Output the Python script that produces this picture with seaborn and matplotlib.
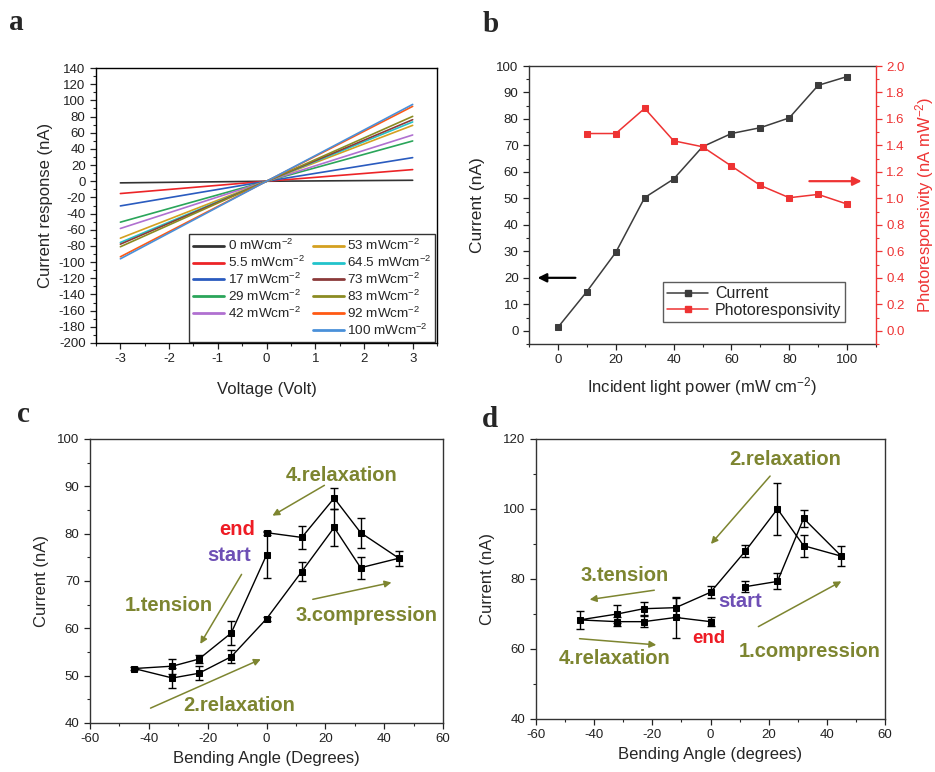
import numpy as np
import pandas as pd
import seaborn as sns
import matplotlib
matplotlib.use("Agg")
import matplotlib.pyplot as plt
from matplotlib.ticker import MultipleLocator
from matplotlib.lines import Line2D

# ---------------- data ----------------
# panel a : I-V curves
voltage = [-3, 0, 3]
intensity_labels = ["0", "5.5", "17", "29", "42", "53", "64.5", "73", "83", "92", "100"]
current_at_minus3 = [-2, -15.2, -30.5, -50.6, -58.4, -70.4, -75.7, -77.8, -81, -93.4, -95.9]
current_at_zero = [0, 0, 0, 0, 0, 0, 0, 0, 0, 0, 0]
current_at_plus3 = [1.2, 14.4, 29.2, 49.8, 57.2, 69.1, 73.3, 76.1, 80.2, 92.6, 95.0]

# panel b : current & photoresponsivity vs power
power_b = [0, 10, 20, 30, 40, 50, 60, 70, 80, 90, 100]
current_b = [1.3, 14.8, 29.6, 50.3, 57.3, 69.5, 74.5, 76.7, 80.4, 92.7, 96.0]
power_resp = [10, 20, 30, 40, 50, 60, 70, 80, 90, 100]
photoresp = [1.49, 1.49, 1.68, 1.435, 1.39, 1.244, 1.098, 1.005, 1.03, 0.957]

# panel c : bending cycle (path order)
angle_c = [0, -12, -23, -32, -45, -32, -23, -12, 0, 12, 23, 32, 45, 32, 23, 12, 0]
current_c = [75.5, 59, 53.5, 52, 51.5, 49.5, 50.5, 54, 62, 72, 81.3, 72.8, 74.8, 80.2, 87.5, 79.2, 80.2]
error_c = [4.8, 2.5, 0.8, 1.6, 0.4, 2.1, 1.5, 1.4, 0.4, 2.1, 3.9, 2.3, 1.6, 3.2, 2.2, 2.5, 0.4]

# panel d : bending cycle (path order)
angle_d = [12, 23, 32, 45, 32, 23, 12, 0, -12, -23, -32, -45, -32, -23, -12, 0]
current_d = [77.8, 79.3, 97.3, 86.5, 89.5, 100, 88, 76.2, 71.8, 71.5, 70, 68.3, 67.8, 67.8, 69, 67.8]
error_d = [1.5, 2.3, 2.5, 2.8, 3.2, 7.3, 1.8, 1.7, 2.8, 1.8, 2.5, 2.5, 1.3, 1.5, 5.8, 1.2]

# ---------------- style ----------------
sns.set_theme(style="ticks")
plt.rcParams["font.family"] = ["Liberation Sans", "DejaVu Sans"]
plt.rcParams["mathtext.fontset"] = "custom"
plt.rcParams["mathtext.rm"] = "Liberation Sans"
plt.rcParams["mathtext.it"] = "Liberation Sans:italic"
plt.rcParams["mathtext.bf"] = "Liberation Sans:bold"
plt.rcParams["axes.unicode_minus"] = False
plt.rcParams["xtick.direction"] = "out"
plt.rcParams["ytick.direction"] = "out"

TICK_FS = 9.5
LABEL_FS = 12
OLIVE = "#7d8530"
RED_TXT = "#ee1c25"
PURPLE = "#6e4fb5"

iv_colors = ["#333333", "#ec2427", "#2a5bbf", "#2aa55a", "#b070d0", "#d4a020",
             "#22c3cb", "#8b3a3a", "#8b8b22", "#ff5a14", "#4a90d9"]

fig = plt.figure(figsize=(9.35, 7.72), dpi=100)


def style_axes(ax, color="black"):
    for s in ax.spines.values():
        s.set_visible(True)
        s.set_color(color)
        s.set_linewidth(1.0)
    ax.tick_params(which="major", length=4, width=0.9, labelsize=TICK_FS, colors="#222222")
    ax.tick_params(which="minor", length=2.2, width=0.8)
    ax.tick_params(top=False, right=False, which="both")


# ---------------- panel a ----------------
axa = fig.add_axes([0.1027, 0.5557, 0.3647, 0.3562])
rows = []
for lab, m3, z, p3 in zip(intensity_labels, current_at_minus3, current_at_zero, current_at_plus3):
    for v, c in zip(voltage, [m3, z, p3]):
        rows.append({"Voltage": v, "Current": c, "Intensity": f"{lab} mWcm$^{{-2}}$"})
df_a = pd.DataFrame(rows)
sns.lineplot(data=df_a, x="Voltage", y="Current", hue="Intensity",
             palette=iv_colors, linewidth=1.2, ax=axa, legend=False, sort=False, estimator=None)
axa.set_xlim(-3.5, 3.5)
axa.set_ylim(-200, 140)
axa.xaxis.set_major_locator(MultipleLocator(1))
axa.xaxis.set_minor_locator(MultipleLocator(0.5))
axa.yaxis.set_major_locator(MultipleLocator(20))
axa.yaxis.set_minor_locator(MultipleLocator(10))
style_axes(axa)
axa.set_xlabel("Voltage (Volt)", fontsize=LABEL_FS, labelpad=12)
axa.set_ylabel("Current response (nA)", fontsize=LABEL_FS, labelpad=4)
handles = [Line2D([], [], color=c, lw=2) for c in iv_colors]
labels = [f"{l} mWcm$^{{-2}}$" for l in intensity_labels]
handles.insert(5, Line2D([], [], color="none"))
labels.insert(5, "")
leg = axa.legend(handles, labels, ncol=2, loc="lower right", bbox_to_anchor=(0.995, 0.005),
                 fontsize=9.7, frameon=True, fancybox=False, edgecolor="black",
                 handlelength=2.3, handletextpad=0.25, columnspacing=0.6,
                 labelspacing=0.12, borderpad=0.3, borderaxespad=0)
leg.get_frame().set_linewidth(1.0)

# ---------------- panel b ----------------
axb = fig.add_axes([0.5658, 0.5544, 0.3711, 0.3601])
GRAY = "#3c3c3c"
RED = "#ee3333"
sns.lineplot(x=power_b, y=current_b, ax=axb, color=GRAY, marker="s", markersize=5,
             markeredgecolor=GRAY, linewidth=1.1, label="Current", legend=False,
             sort=False, estimator=None)
axb.set_xlim(-10, 110)
axb.set_ylim(-5, 100)
axb.xaxis.set_major_locator(MultipleLocator(20))
axb.xaxis.set_minor_locator(MultipleLocator(10))
axb.yaxis.set_major_locator(MultipleLocator(10))
axb.yaxis.set_minor_locator(MultipleLocator(5))
style_axes(axb, color="#333333")
axb.set_xlabel("Incident light power (mW cm$^{-2}$)", fontsize=LABEL_FS, labelpad=6)
axb.set_ylabel("Current (nA)", fontsize=LABEL_FS + 0.5, labelpad=8)

axb2 = axb.twinx()
sns.lineplot(x=power_resp, y=photoresp, ax=axb2, color=RED, marker="s", markersize=5,
             markeredgecolor=RED, linewidth=1.1, label="Photoresponsivity", legend=False,
             sort=False, estimator=None)
axb2.set_ylim(-0.1, 2.0)
axb2.yaxis.set_major_locator(MultipleLocator(0.2))
axb2.yaxis.set_minor_locator(MultipleLocator(0.1))
axb2.yaxis.set_major_formatter(matplotlib.ticker.FormatStrFormatter("%.1f"))
axb2.spines["right"].set_color(RED)
axb2.spines["right"].set_linewidth(1.0)
axb2.spines["top"].set_visible(False)
axb2.spines["left"].set_visible(False)
axb2.spines["bottom"].set_visible(False)
axb2.tick_params(axis="y", which="major", length=4, width=0.9, colors=RED, labelsize=TICK_FS)
axb2.tick_params(axis="y", which="minor", length=2.2, width=0.8, colors=RED)
axb2.set_ylabel("Photoresponsivity (nA mW$^{-2}$)", fontsize=LABEL_FS, color=RED, labelpad=6)
axb.spines["right"].set_visible(False)

h1 = Line2D([], [], color=GRAY, marker="s", markersize=5, lw=1.1)
h2 = Line2D([], [], color=RED, marker="s", markersize=5, lw=1.1)
legb = axb.legend([h1, h2], ["Current", "Photoresponsivity"], loc="lower left",
                  bbox_to_anchor=(0.386, 0.079), fontsize=11.5, frameon=True, fancybox=False,
                  edgecolor="#333333", handlelength=2.6, handletextpad=0.4,
                  labelspacing=0.1, borderpad=0.25, borderaxespad=0)
legb.get_frame().set_linewidth(1.0)
axb.annotate("", xy=(-8, 20), xytext=(7, 20),
             arrowprops=dict(arrowstyle="-|>", color="black", lw=1.6, mutation_scale=13))
axb2.annotate("", xy=(106, 1.13), xytext=(86, 1.13),
              arrowprops=dict(arrowstyle="-|>", color=RED, lw=1.6, mutation_scale=13))

# ---------------- panel c ----------------
axc = fig.add_axes([0.0963, 0.0635, 0.3775, 0.3679])
axc.errorbar(angle_c, current_c, yerr=error_c, fmt="none", ecolor="black",
             elinewidth=1.0, capsize=2.8, capthick=1.0)
sns.lineplot(x=angle_c, y=current_c, ax=axc, color="black", marker="s", markersize=5,
             markeredgecolor="black", linewidth=1.0, sort=False, estimator=None)
axc.set_xlim(-60, 60)
axc.set_ylim(40, 100)
axc.xaxis.set_major_locator(MultipleLocator(20))
axc.xaxis.set_minor_locator(MultipleLocator(10))
axc.yaxis.set_major_locator(MultipleLocator(10))
axc.yaxis.set_minor_locator(MultipleLocator(5))
style_axes(axc, color="#333333")
axc.set_xlabel("Bending Angle (Degrees)", fontsize=LABEL_FS, labelpad=4)
axc.set_ylabel("Current (nA)", fontsize=LABEL_FS, labelpad=6)

ann_kw = dict(fontsize=14.5, fontweight="bold", ha="center", va="center")
arr_kw = dict(arrowstyle="-|>", color=OLIVE, lw=1.1, mutation_scale=10)
axc.text(25.5, 92.2, "4.relaxation", color=OLIVE, **ann_kw)
axc.annotate("", xy=(1.2, 83.5), xytext=(20.5, 90.5), arrowprops=arr_kw)
axc.text(-10, 80.8, "end", color=RED_TXT, **ann_kw)
axc.text(-12.7, 75.3, "start", color=PURPLE, **ann_kw)
axc.text(-33.3, 64.9, "1.tension", color=OLIVE, **ann_kw)
axc.annotate("", xy=(-23, 56.2), xytext=(-8, 71.9), arrowprops=arr_kw)
axc.text(-9.3, 43.6, "2.relaxation", color=OLIVE, **ann_kw)
axc.annotate("", xy=(-1.1, 53.7), xytext=(-40.3, 42.9), arrowprops=arr_kw)
axc.text(34, 62.6, "3.compression", color=OLIVE, **ann_kw)
axc.annotate("", xy=(43.4, 69.8), xytext=(14.8, 66), arrowprops=arr_kw)

# ---------------- panel d ----------------
axd = fig.add_axes([0.5733, 0.0687, 0.3733, 0.3627])
axd.errorbar(angle_d, current_d, yerr=error_d, fmt="none", ecolor="black",
             elinewidth=1.0, capsize=2.8, capthick=1.0)
sns.lineplot(x=angle_d, y=current_d, ax=axd, color="black", marker="s", markersize=5,
             markeredgecolor="black", linewidth=1.0, sort=False, estimator=None)
axd.set_xlim(-60, 60)
axd.set_ylim(40, 120)
axd.xaxis.set_major_locator(MultipleLocator(20))
axd.xaxis.set_minor_locator(MultipleLocator(10))
axd.yaxis.set_major_locator(MultipleLocator(20))
axd.yaxis.set_minor_locator(MultipleLocator(10))
style_axes(axd, color="#333333")
axd.set_xlabel("Bending Angle (degrees)", fontsize=LABEL_FS, labelpad=4)
axd.set_ylabel("Current (nA)", fontsize=LABEL_FS, labelpad=6)

axd.text(25.5, 114, "2.relaxation", color=OLIVE, **ann_kw)
axd.annotate("", xy=(-0.5, 89.4), xytext=(21.1, 110), arrowprops=arr_kw)
axd.text(-29.6, 80.9, "3.tension", color=OLIVE, **ann_kw)
axd.annotate("", xy=(-42.5, 74), xytext=(-18.4, 76.9), arrowprops=arr_kw)
axd.text(-33, 57.4, "4.relaxation", color=OLIVE, **ann_kw)
axd.annotate("", xy=(-17.7, 61.1), xytext=(-46, 63), arrowprops=arr_kw)
axd.text(-0.6, 62.9, "end", color=RED_TXT, fontsize=13.5, fontweight="bold", ha="center", va="center")
axd.text(10, 73.7, "start", color=PURPLE, **ann_kw)
axd.text(34, 59.4, "1.compression", color=OLIVE, **ann_kw)
axd.annotate("", xy=(45.8, 79.7), xytext=(15.6, 66), arrowprops=arr_kw)

# ---------------- panel letters ----------------
letter_kw = dict(fontsize=21, fontweight="bold", family="Liberation Serif", va="center", ha="center")
fig.text(16 / 935, 1 - 23 / 772, "a", **letter_kw)
fig.text(491 / 935, 1 - 25 / 772, "b", **letter_kw)
fig.text(23 / 935, 1 - 414 / 772, "c", **letter_kw)
fig.text(490 / 935, 1 - 419 / 772, "d", **letter_kw)

fig.savefig("out.png", dpi=100)
